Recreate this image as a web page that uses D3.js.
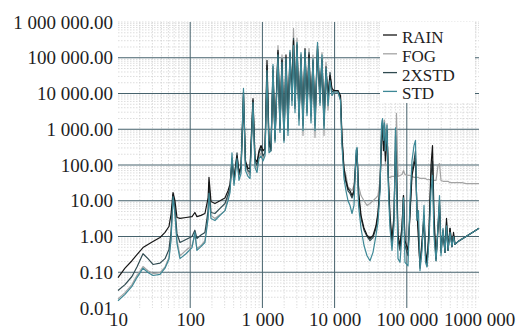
<!DOCTYPE html>
<html>
<head>
<meta charset="utf-8">
<script src="https://cdn.jsdelivr.net/npm/d3@7"></script>
<style>
  html, body { margin: 0; padding: 0; background: #fff; }
  svg { display: block; }
  text { font-family: "Liberation Serif", "Times New Roman", serif; fill: #1e1e1e; }
</style>
</head>
<body>
<svg id="chart" width="524" height="331"></svg>
<script>
// frequency (Hz), shared by all four series
const freq = [
  10, 12.5, 15.6, 18.3, 22.2, 26, 30.5, 38.2, 44.8, 50.8, 54.2, 57.8, 61.5, 65.6, 72.2, 87.4, 106, 116, 124, 141, 160, 177, 182, 194, 220, 259, 303,
  334, 356, 379, 404, 445, 474, 506, 547, 583, 632, 673, 741, 790, 842, 897, 957,
  1020, 1087, 1158, 1234, 1315, 1402, 1495, 1644, 1753, 1868, 1991, 2122, 2262, 2411, 2570, 2698, 2829, 3016, 3214, 3426, 3651, 3891, 4147, 4420, 4711, 5021, 5353, 5796, 6278, 6691, 7132, 7601, 8103, 8636, 9204, 9800, 11150, 12070, 12650,
  13490, 14380, 15330, 16340, 17420, 18570, 19790, 20430, 21430, 23220, 25540, 28110, 30920, 34040, 37430, 39900, 42540, 44660, 46060, 47540, 49070, 50650, 53170, 55770, 58510, 62370, 66490, 69730, 71970, 75510, 80490, 85800, 89990, 94400, 103900, 110700, 118000, 125800, 131900, 138400, 145100, 152300, 162400, 173100, 181600, 190500, 203000, 216400, 227000, 238200, 253900, 270600, 283900, 297700, 317400, 338300, 354900, 372300, 396800, 422900, 443700, 465400, 511900, 581900, 661000, 750000, 852500, 1000000
];

const rain = [
  0.071, 0.13, 0.21, 0.31, 0.49, 0.6, 0.72, 0.94, 1.3, 1.9, 4.1, 17, 10, 3.4, 3.2, 3.4, 3.6, 4.7, 3.6, 3.9, 4.4, 12, 45, 9.5, 8.4, 10, 12,
  19, 29, 130, 42, 180, 62, 91, 11000, 130, 80, 80, 7200, 150, 120, 250, 350,
  250, 290, 84000, 490, 250, 44000, 550, 160000, 1300, 84000, 490, 120000, 1800, 140000, 8800, 300000, 4600, 220000, 2400, 95000, 1800, 180000, 4600, 120000, 3400, 84000, 1800, 220000, 8800, 84000, 1800, 44000, 8800, 32000, 14000, 12000, 12000, 8800, 670,
  80, 37, 22, 19, 14, 19, 130, 250, 19, 3.9, 1.7, 1.1, 0.88, 1.07, 2.0, 4.7, 27, 490, 1500, 250, 1300, 130, 920, 37, 3.9, 0.77, 3.9, 250, 130, 1.07, 0.56, 2.0, 14, 0.77, 0.41, 3.9, 51, 97, 150, 5.3, 0.77, 0.15, 0.77, 3.9, 0.41, 0.19, 1.5, 97, 350, 3.9, 0.24, 2.0, 10, 0.41, 1.5, 0.36, 3.2, 0.41, 1.7, 0.52, 1.3, 0.6, 0.72, 0.85, 1.0, 1.18, 1.38, 1.7
];

const fog = [
  0.018, 0.027, 0.045, 0.081, 0.145, 0.11, 0.092, 0.098, 0.14, 0.26, 0.88, 14, 4.7, 0.77, 0.29, 0.41, 0.56, 1.1, 0.46, 0.56, 0.77, 3.9, 19, 3.9, 3.2, 4.1, 5.3,
  13, 19, 97, 30, 130, 48, 70, 5600, 91, 62, 51, 4300, 100, 80, 170, 220,
  150, 250, 23000, 250, 350, 32000, 670, 220000, 920, 120000, 920, 44000, 1300, 84000, 12000, 660000, 6400, 350000, 1800, 84000, 670, 120000, 3400, 180000, 1800, 120000, 590, 160000, 6400, 140000, 670, 74000, 3400, 26000, 8800, 11000, 11000, 6400, 490,
  80, 51, 24, 22, 19, 27, 180, 250, 27, 14, 10, 7.4, 8.4, 10, 12, 14, 37, 920, 1300, 490, 1800, 97, 1450, 45, 45, 48, 48, 51, 2800, 48, 51, 54, 70, 54, 51, 51, 48, 45, 45, 45, 45, 42, 42, 42, 42, 39, 39, 39, 37, 37, 37, 97, 110, 37, 35, 35, 35, 35, 32, 32, 32, 32, 32, 32, 30, 30, 30, 30
];

const std2 = [
  0.031, 0.045, 0.076, 0.14, 0.33, 0.24, 0.165, 0.18, 0.24, 0.43, 1.3, 15, 6.5, 1.2, 0.68, 0.82, 1.0, 1.5, 0.88, 1.1, 1.3, 5.3, 32, 4.7, 4.4, 6.1, 8.4,
  15, 22, 150, 37, 220, 54, 80, 8200, 110, 70, 62, 6400, 130, 97, 220, 290,
  180, 220, 61000, 350, 290, 57000, 490, 140000, 1000, 95000, 550, 84000, 920, 120000, 6400, 350000, 3800, 240000, 2000, 120000, 1300, 140000, 2900, 140000, 2400, 74000, 1300, 180000, 5600, 95000, 1300, 57000, 6400, 39000, 11000, 12000, 12000, 7200, 490,
  62, 32, 19, 16, 12, 17, 180, 290, 14, 3.2, 1.5, 1.0, 0.77, 0.94, 1.7, 3.9, 22, 670, 1800, 350, 1000, 180, 1000, 27, 2.8, 0.64, 3.2, 670, 70, 0.77, 0.41, 1.7, 14, 0.56, 0.29, 5.3, 70, 130, 250, 3.9, 1.5, 0.13, 0.56, 2.8, 0.29, 0.15, 1.07, 51, 130, 2.0, 0.21, 1.5, 7.4, 0.36, 1.3, 0.36, 2.5, 0.41, 1.7, 0.52, 1.1, 0.6, 0.72, 0.85, 1.0, 1.18, 1.38, 1.7
];

const std = [
  0.016, 0.024, 0.040, 0.071, 0.13, 0.098, 0.081, 0.087, 0.13, 0.23, 0.77, 13, 4.1, 0.64, 0.24, 0.33, 0.49, 1.3, 0.41, 0.52, 0.68, 3.2, 16, 3.2, 2.8, 3.9, 5.3,
  10, 17, 220, 27, 150, 37, 58, 14000, 70, 48, 42, 5600, 85, 62, 150, 180,
  130, 180, 44000, 220, 250, 65000, 430, 120000, 810, 74000, 430, 95000, 670, 160000, 4600, 220000, 2900, 270000, 1300, 140000, 920, 160000, 2400, 95000, 1500, 95000, 920, 270000, 4600, 120000, 1000, 50000, 4600, 23000, 8800, 11000, 11000, 6400, 350,
  42, 19, 10, 7.4, 4.4, 7.4, 250, 310, 7.4, 1.7, 0.56, 0.29, 0.21, 0.36, 1.07, 2.5, 19, 1300, 2000, 490, 1500, 250, 1300, 19, 1.7, 0.41, 2.0, 1100, 51, 0.24, 0.19, 1.07, 12, 0.19, 0.15, 10, 130, 350, 490, 2.8, 5.3, 0.11, 0.41, 7.4, 0.19, 0.14, 0.77, 19, 51, 1.07, 0.21, 2.0, 14, 0.29, 1.7, 0.36, 2.0, 0.41, 1.3, 0.52, 1.0, 0.6, 0.72, 0.85, 1.0, 1.18, 1.38, 1.7
];

const seriesNames = ["RAIN", "FOG", "2XSTD", "STD"];
const xTicks = [10, 100, 1000, 10000, 100000, 1000000];
const xTickLabels = ["10", "100", "1 000", "10 000", "100 000", "1000 000"];
const yTicks = [0.01, 0.1, 1, 10, 100, 1000, 10000, 100000, 1000000];

const svg = d3.select("#chart");
const plotL = 118, plotR = 479, plotT = 22, plotB = 308;

const x = d3.scaleLog().domain([10, 1e6]).range([plotL, plotR]);
const y = d3.scaleLog().domain([0.01, 1e6]).range([plotB, plotT]);

const fmt = d3.formatLocale({ decimal: ".", thousands: " ", grouping: [3], currency: ["", ""] }).format(",.2f");

// minor grid (dotted texture)
const minorX = [], minorY = [];
xTicks.slice(0, -1).forEach(d => { for (let k = 2; k < 10; k++) minorX.push(d * k); });
yTicks.slice(0, -1).forEach(d => { for (let k = 2; k < 10; k++) minorY.push(d * k); });
minorY.push(1e6);

const grid = svg.append("g");
grid.selectAll("line.mx").data(minorX).enter().append("line")
  .attr("x1", d => x(d)).attr("x2", d => x(d)).attr("y1", plotT).attr("y2", plotB)
  .attr("stroke", "#cfcfcf").attr("stroke-width", 0.7).attr("stroke-dasharray", "1.5,1.5");
grid.selectAll("line.my").data(minorY).enter().append("line")
  .attr("x1", plotL).attr("x2", plotR).attr("y1", d => y(d)).attr("y2", d => y(d))
  .attr("stroke", "#cfcfcf").attr("stroke-width", 0.7).attr("stroke-dasharray", "1.5,1.5");

// major grid
grid.selectAll("line.gx").data(xTicks.slice(1, -1)).enter().append("line")
  .attr("x1", d => x(d)).attr("x2", d => x(d)).attr("y1", plotT).attr("y2", plotB)
  .attr("stroke", "#46626c").attr("stroke-width", 1);
grid.selectAll("line.gy").data(yTicks.slice(1, -1)).enter().append("line")
  .attr("x1", plotL).attr("x2", plotR).attr("y1", d => y(d)).attr("y2", d => y(d))
  .attr("stroke", "#46626c").attr("stroke-width", 1);

// axes (labels only)
const yAxis = svg.append("g").attr("transform", `translate(${plotL},0)`)
  .call(d3.axisLeft(y).tickValues(yTicks).tickFormat(fmt).tickSize(0).tickPadding(5));
const xAxis = svg.append("g").attr("transform", `translate(0,${plotB})`)
  .call(d3.axisBottom(x).tickValues(xTicks).tickFormat((d, i) => xTickLabels[i]).tickSize(0).tickPadding(5));
[xAxis, yAxis].forEach(a => {
  a.select(".domain").remove();
  a.selectAll("text").attr("font-size", 19).attr("font-family", "Liberation Serif, serif").attr("fill", "#1e1e1e");
});

// series
const colors = { "RAIN": "#161616", "FOG": "#a4a4a4", "2XSTD": "#2f4a50", "STD": "#3d8896" };
const values = { "RAIN": rain, "FOG": fog, "2XSTD": std2, "STD": std };
const line = d3.line()
  .defined(d => d[1] > 0)
  .x(d => x(d[0])).y(d => y(d[1]));

const drawOrder = ["FOG", "2XSTD", "RAIN", "STD"];
svg.append("g").selectAll("path").data(drawOrder).enter().append("path")
  .attr("fill", "none")
  .attr("stroke", d => colors[d])
  .attr("stroke-width", 1.2)
  .attr("stroke-linejoin", "round")
  .attr("d", d => line(freq.map((f, i) => [f, values[d][i]])));

// legend
const lg = svg.append("g");
lg.append("rect").attr("x", 380).attr("y", 22).attr("width", 95).attr("height", 81).attr("fill", "#fff");
const rows = lg.selectAll("g").data(seriesNames).enter().append("g")
  .attr("transform", (d, i) => `translate(383,${37 + i * 18.8})`);
rows.append("line").attr("x1", 0).attr("x2", 14).attr("y1", -2).attr("y2", -2)
  .attr("stroke", d => colors[d]).attr("stroke-width", 1.3);
rows.append("text").attr("x", 19).attr("dy", "0.35em").attr("font-size", 17).text(d => d);
</script>
</body>
</html>
